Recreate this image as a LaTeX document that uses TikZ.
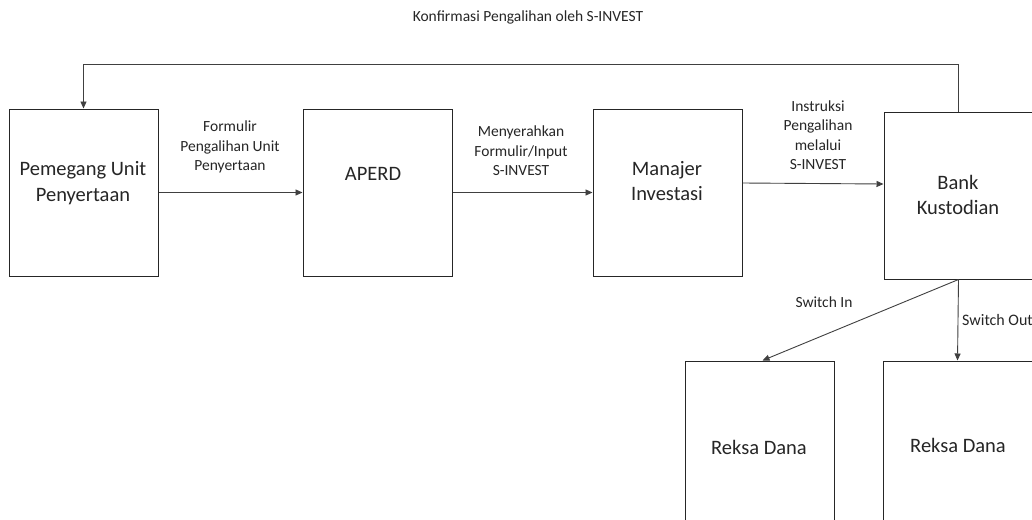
\documentclass[tikz,border=0pt]{standalone}
\usepackage{fontspec}
\setmainfont{Carlito}
\usetikzlibrary{arrows.meta}
\begin{document}
\begin{tikzpicture}[x=1pt,y=-1pt,
  boxnode/.style={draw=black!85,line width=1pt,minimum width=149pt,minimum height=167pt,inner sep=0pt},
  bigtxt/.style={text=black!85,font=\fontsize{20.5}{25.5}\selectfont,align=center,inner sep=0pt},
  smalltxt/.style={text=black!85,font=\fontsize{15.5}{19.5}\selectfont,align=center,inner sep=0pt},
  arr/.style={draw=black!75,line width=0.9pt,-{Triangle[length=7pt,width=6pt]}}]
\clip (0,0) rectangle (1032,519);
\fill[white] (0,0) rectangle (1032,519);
% boxes
\node[boxnode] (p) at (83.5,192.5) {};
\node[boxnode] (a) at (377.5,192.5) {};
\node[boxnode] (m) at (667.5,192.5) {};
\node[boxnode] (b) at (958.5,195.5) {};
\node[boxnode] (r1) at (759.5,444.5) {};
\node[boxnode] (r2) at (957.5,444.5) {};
% box texts
\node[bigtxt] (tp) at (83,183) {Pemegang Unit\\Penyertaan};
\node[bigtxt] (ta) at (373,174) {APERD};
\node[bigtxt] (tm) at (667,181) {Manajer\\Investasi};
\node[bigtxt] (tb) at (958,195) {Bank\\Kustodian};
\node[bigtxt] (tr1) at (759,447) {Reksa Dana};
\node[bigtxt] (tr2) at (958,445) {Reksa Dana};
% labels
\node[smalltxt] (title) at (528,17) {Konfirmasi Pengalihan oleh S-INVEST};
\node[smalltxt] (l1) at (230,147) {Formulir\\Pengalihan Unit\\Penyertaan};
\node[smalltxt] (l2) at (521,151) {Menyerahkan\\Formulir/Input\\S-INVEST};
\node[smalltxt] (l3) at (818,135) {Instruksi\\Pengalihan\\melalui\\S-INVEST};
\node[smalltxt] (l4) at (824,302) {Switch In};
\node[smalltxt,anchor=west,font=\fontsize{16}{19.5}\selectfont] (l5) at (962,320) {Switch Out};
% connectors
\coordinate (fbR) at (958.5,64);
\coordinate (fbL) at (83.5,64);
\draw[arr] (p.east) -- (a.west);
\draw[arr] (a.east) -- (m.west);
\draw[arr] ([yshift=9.5pt]m.east) -- ([yshift=11.5pt]b.west);
\draw[arr] (b.north) -- (fbR) -- (fbL) -- (p.north);
\draw[arr] (b.south) -- ([xshift=3pt]r1.north);
\draw[arr] (b.south) -- (r2.north);
\end{tikzpicture}
\end{document}
